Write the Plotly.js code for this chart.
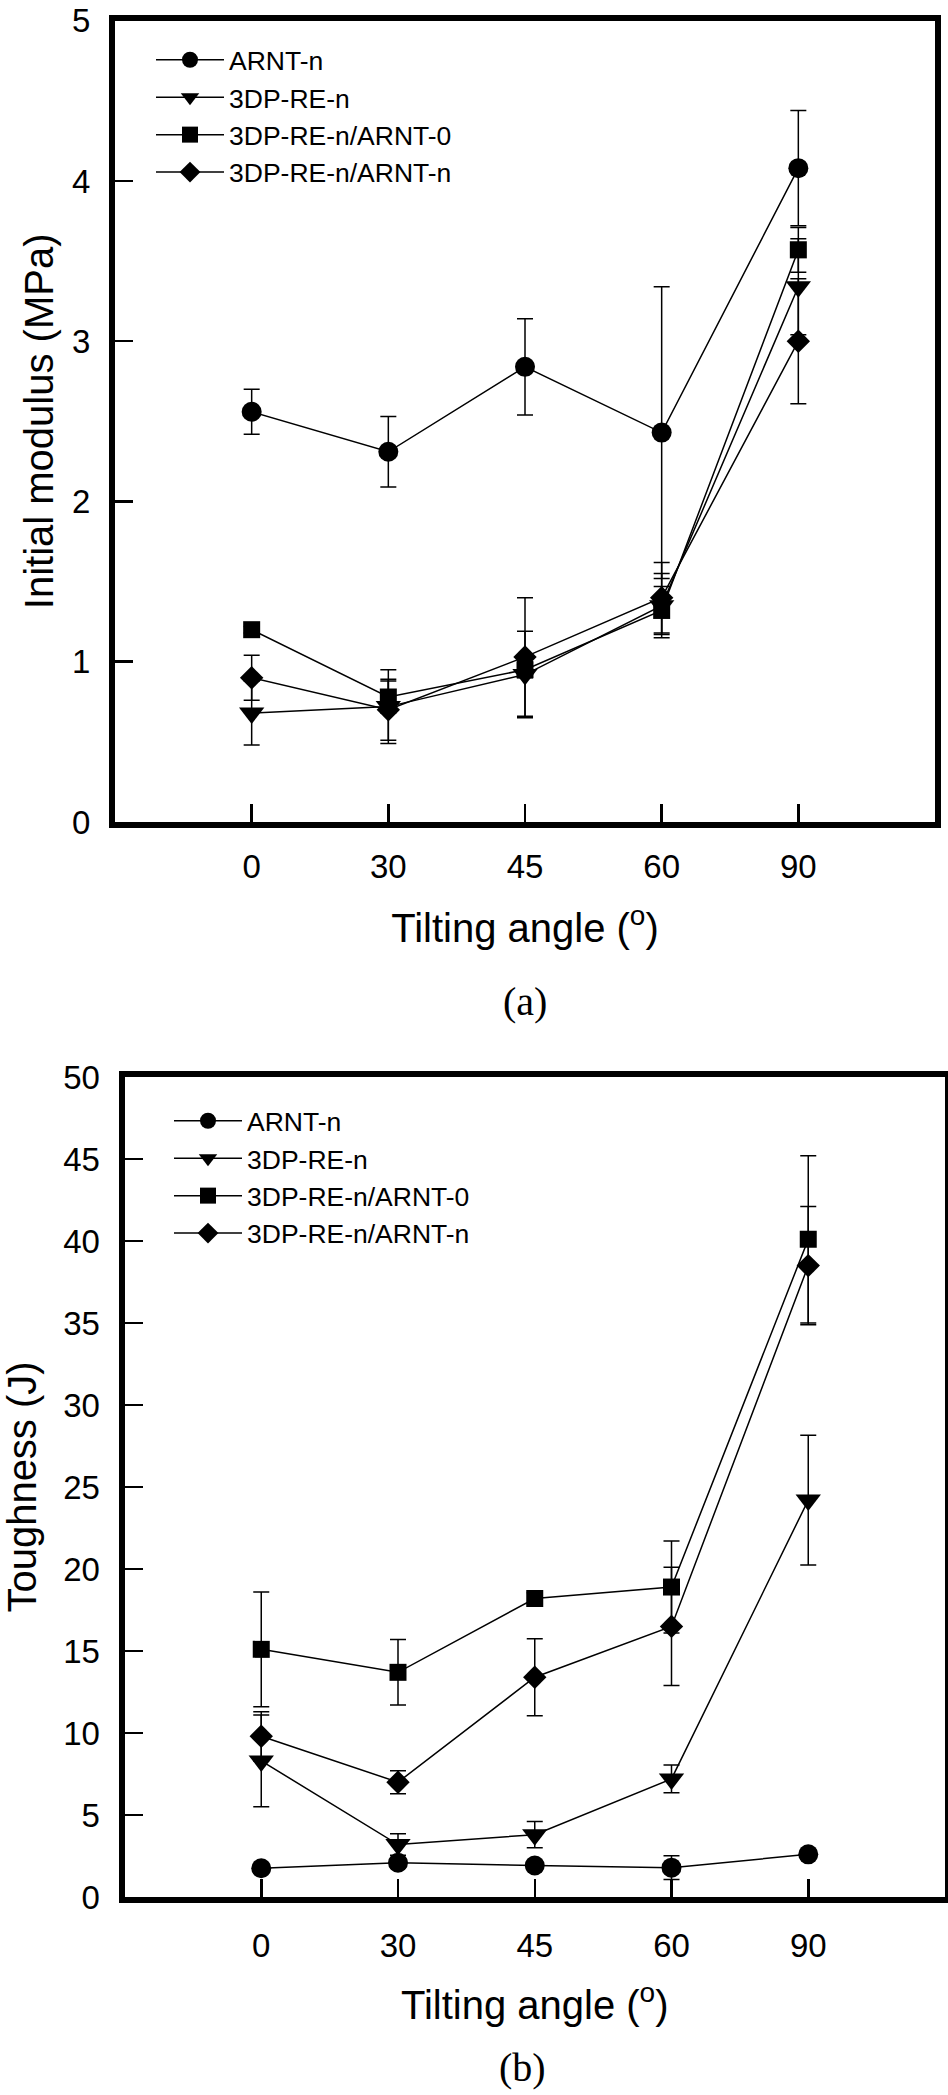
<!DOCTYPE html>
<html><head><meta charset="utf-8">
<script src="https://cdn.plot.ly/plotly-3.0.1.min.js"></script>
<style>body{margin:0;padding:0;background:#fff}#chart{width:948px;height:2095px}</style>
</head><body><div id="chart"></div>
<script>
// Categories (tilting angle, degrees)
const angles = ["0", "30", "45", "60", "90"];
const seriesNames = ["ARNT-n", "3DP-RE-n", "3DP-RE-n/ARNT-0", "3DP-RE-n/ARNT-n"];

// Panel (a): initial modulus (MPa)
const modArnt    = [2.56, 2.31, 2.84, 2.43, 4.08];
const modArntErr = [0.14, 0.22, 0.30, 0.91, 0.36];
const modRe      = [0.68, 0.72, 0.92, 1.35, 3.34];
const modReErr   = [0.20, 0.23, 0.27, 0.20, 0.30];
const modRe0     = [1.20, 0.78, 0.95, 1.32, 3.57];
const modRe0Err  = [0.02, 0.10, 0.05, 0.15, 0.14];
const modReN     = [0.90, 0.70, 1.03, 1.40, 3.00];
const modReNErr  = [0.14, 0.19, 0.37, 0.22, 0.39];

// Panel (b): toughness (J)
const tArnt    = [1.75, 2.09, 1.92, 1.79, 2.60];
const tArntErr = [0.30, 0.30, 0.30, 0.72, 0.30];
const tRe      = [8.3, 3.2, 3.8, 7.2, 24.2];
const tReErr   = [2.8, 0.65, 0.8, 0.85, 3.95];
const tRe0     = [15.1, 13.7, 18.2, 18.9, 40.1];
const tRe0Err  = [3.5, 2.0, 0.35, 2.8, 5.1];
const tReN     = [9.8, 7.0, 13.4, 16.5, 38.5];
const tReNErr  = [1.5, 0.7, 2.35, 3.6, 3.6];

const symbols = ["circle", "triangle-down", "square", "diamond"];
const sizes   = [20, 22, 17, 18];

const FONT = "Liberation Sans, Arial, Helvetica, sans-serif";

function trace(i, y, err, xa, ya, leg) {
  return {
    type: "scatter", mode: "lines+markers",
    x: angles, y: y, name: seriesNames[i],
    xaxis: xa, yaxis: ya, legend: leg,
    line: {color: "#000", width: 1.5},
    marker: {symbol: symbols[i], size: sizes[i], color: "#000", line: {width: 0}},
    error_y: {type: "data", array: err, visible: true, color: "#000", thickness: 1.5, width: 8}
  };
}

const data = [
  trace(0, modArnt, modArntErr, "x", "y", "legend"),
  trace(1, modRe, modReErr, "x", "y", "legend"),
  trace(2, modRe0, modRe0Err, "x", "y", "legend"),
  trace(3, modReN, modReNErr, "x", "y", "legend"),
  trace(0, tArnt, tArntErr, "x2", "y2", "legend2"),
  trace(1, tRe, tReErr, "x2", "y2", "legend2"),
  trace(2, tRe0, tRe0Err, "x2", "y2", "legend2"),
  trace(3, tReN, tReNErr, "x2", "y2", "legend2")
];

const W = 948, H = 2095;
function px(v) { return v / W; }
function py(v) { return 1 - v / H; }

const axisCommon = {
  showline: true, linewidth: 6, linecolor: "#000", mirror: true,
  ticks: "inside", ticklen: 18, tickwidth: 2.5, tickcolor: "#000",
  showgrid: false, zeroline: false,
  tickfont: {family: FONT, size: 33, color: "#000"}
};

const legendCommon = {
  xanchor: "left", yanchor: "top",
  bgcolor: "rgba(0,0,0,0)", borderwidth: 0, tracegroupgap: 0, itemwidth: 68,
  font: {family: FONT, size: 26.5, color: "#000"}
};

const layout = {
  width: W, height: H,
  margin: {l: 0, r: 0, t: 0, b: 0},
  paper_bgcolor: "#fff", plot_bgcolor: "#fff",
  showlegend: true,
  font: {family: FONT, color: "#000"},
  xaxis: Object.assign({}, axisCommon, {
    domain: [px(115), px(935)], anchor: "y", type: "category", range: [-1, 5],
    ticklabelstandoff: 10,
    title: {text: "Tilting angle (<sup>o</sup>)", font: {family: FONT, size: 40}, standoff: 32}
  }),
  yaxis: Object.assign({}, axisCommon, {
    domain: [py(822), py(20.7)], anchor: "x", range: [0, 5], dtick: 1,
    ticklabelstandoff: 12,
    title: {text: "Initial modulus (MPa)", font: {family: FONT, size: 40}, standoff: 8}
  }),
  xaxis2: Object.assign({}, axisCommon, {
    domain: [px(124.5), px(945)], anchor: "y2", type: "category", range: [-1, 5],
    ticklabelstandoff: 14,
    title: {text: "Tilting angle (<sup>o</sup>)", font: {family: FONT, size: 40}, standoff: 30}
  }),
  yaxis2: Object.assign({}, axisCommon, {
    domain: [py(1897), py(1077)], anchor: "x2", range: [0, 50], dtick: 5,
    ticklabelstandoff: 12,
    title: {text: "Toughness (J)", font: {family: FONT, size: 40}, standoff: 20}
  }),
  legend: Object.assign({}, legendCommon, {x: px(151), y: py(36)}),
  legend2: Object.assign({}, legendCommon, {x: px(169), y: py(1097)}),
  annotations: [
    {text: "(a)", xref: "paper", yref: "paper", x: px(525), y: py(1001),
     xanchor: "center", yanchor: "middle", showarrow: false,
     font: {family: "Liberation Serif, Times New Roman, serif", size: 40, color: "#000"}},
    {text: "(b)", xref: "paper", yref: "paper", x: px(522), y: py(2067),
     xanchor: "center", yanchor: "middle", showarrow: false,
     font: {family: "Liberation Serif, Times New Roman, serif", size: 40, color: "#000"}}
  ]
};

Plotly.newPlot("chart", data, layout, {displayModeBar: false, staticPlot: true});
</script>
</body></html>
